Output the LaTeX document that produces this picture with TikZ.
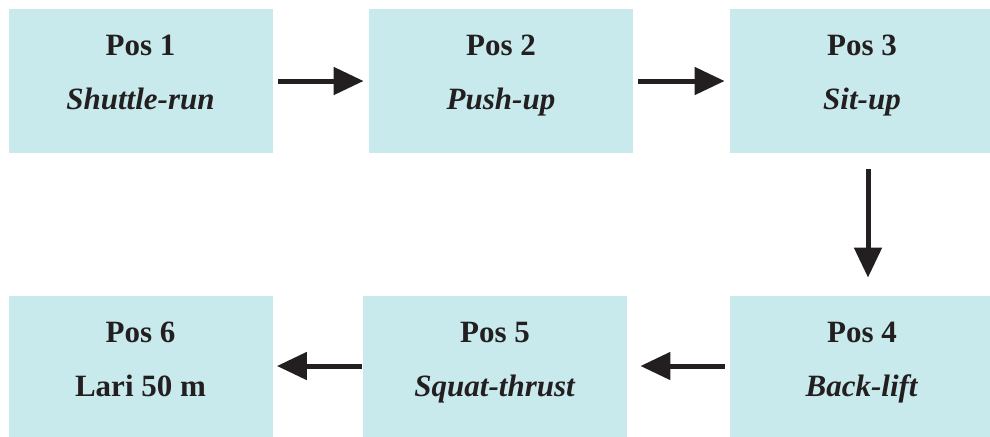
\documentclass[tikz,border=0pt]{standalone}
\usepackage{fontspec}
\setmainfont{Liberation Serif}
\usetikzlibrary{arrows.meta,positioning}
\definecolor{posfill}{RGB}{201,234,236}
\definecolor{posdark}{RGB}{35,31,32}
\tikzset{
  posbox/.style={fill=posfill,minimum width=132pt,minimum height=72pt,
    align=center,inner sep=0pt,text=posdark,text height=38pt,text depth=10pt,
    font=\fontsize{15.5}{27}\selectfont\bfseries},
  posarrow/.style={-{Triangle[length=15pt,width=13.5pt]},line width=2.5pt,
    draw=posdark,shorten <=2.5pt,shorten >=2.5pt}
}
\begin{document}
\begin{tikzpicture}[x=0.5pt,y=-0.5pt]
  \useasboundingbox (0,0) rectangle (990,436);
  %% Top row
  \node[posbox] (p1) at (140.5,81) {Pos 1\\\textit{Shuttle-run}};
  \node[posbox] (p2) at (501,81) {Pos 2\\\textit{Push-up}};
  \node[posbox] (p3) at (862,81) {Pos 3\\\textit{Sit-up}};
  %% Bottom row
  \node[posbox] (p4) at (862,368) {Pos 4\\\textit{Back-lift}};
  \node[posbox] (p5) at (495,368) {Pos 5\\\textit{Squat-thrust}};
  \node[posbox] (p6) at (140.5,368) {Pos 6\\Lari 50 m};

  %% Arrows
  \draw[posarrow] (p1.east) -- (p2.west);
  \draw[posarrow] (p2.east) -- (p3.west);
  \draw[posarrow,shorten <=8pt,shorten >=9pt] ([xshift=3pt]p3.south) -- ([xshift=3pt]p4.north);
  \draw[posarrow,shorten >=6.5pt] ([yshift=1pt]p4.west) -- ([yshift=1pt]p5.east);
  \draw[posarrow,shorten <=0.5pt,shorten >=2pt] ([yshift=1pt]p5.west) -- ([yshift=1pt]p6.east);
\end{tikzpicture}
\end{document}
